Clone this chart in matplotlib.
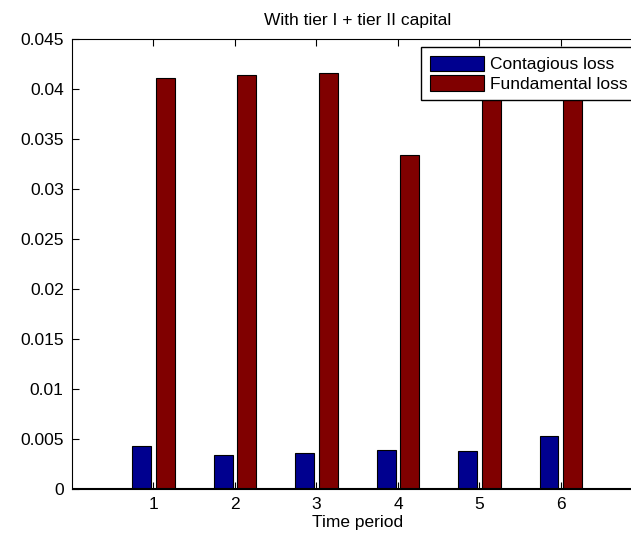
import numpy as np
import matplotlib.pyplot as plt

plt.rcParams['font.family'] = ['Liberation Sans', 'DejaVu Sans']

# values
periods = [1, 2, 3, 4, 5, 6]
contagious = [0.00427, 0.0034, 0.00363, 0.0039, 0.00383, 0.0053]
fundamental = [0.0411, 0.0414, 0.0416, 0.0334, 0.0411, 0.0414]

fig = plt.figure(figsize=(6.31, 5.36), dpi=100)
ax = fig.add_axes([0.1141, 0.0877, 0.904, 0.8396])

x = np.array(periods)
w = 0.23
ax.bar(x - 0.145, contagious, w, color='#00008f', edgecolor='black', linewidth=0.8,
       label='Contagious loss')
ax.bar(x + 0.145, fundamental, w, color='#800000', edgecolor='black', linewidth=0.8,
       label='Fundamental loss')

ax.set_xlim(0, 7)
ax.set_ylim(0, 0.045)
ax.set_xticks(periods)
ax.set_yticks(np.arange(0, 0.0451, 0.005))
ax.set_yticklabels(['0', '0.005', '0.01', '0.015', '0.02', '0.025', '0.03',
                    '0.035', '0.04', '0.045'])
ax.tick_params(direction='in', length=5, top=True, right=True, labelsize=12.5, pad=6)
ax.axhline(0, color='black', linewidth=1.5)

ax.set_title('With tier I + tier II capital', fontsize=12.5, pad=10)
ax.set_xlabel('Time period', fontsize=12.5, labelpad=2)

leg = ax.legend(loc='upper left', bbox_to_anchor=(0.612, 0.982), borderaxespad=0,
                fontsize=12.5, fancybox=False, framealpha=1, edgecolor='black',
                handlelength=3.1, handleheight=1.0, handletextpad=0.35,
                labelspacing=0.15, borderpad=0.5)
leg.get_frame().set_linewidth(1.0)

fig.savefig('out.png', dpi=100)
